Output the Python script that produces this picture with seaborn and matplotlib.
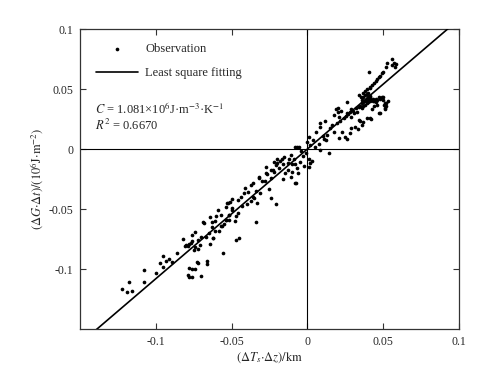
import numpy as np
import pandas as pd
import matplotlib
matplotlib.use("Agg")
import matplotlib.pyplot as plt
import seaborn as sns

# ---- data ----
obs_x = [
    -0.122, -0.119, -0.116, -0.118, -0.108, -0.108, -0.100, -0.097, -0.095, -0.095, -0.093, -0.091, -0.089,
    -0.086, -0.082, -0.080, -0.079, -0.078, -0.077, -0.076, -0.074, -0.069, -0.079, -0.078, -0.076, -0.074,
    -0.073, -0.072, -0.078, -0.072, -0.072, -0.076, -0.070, -0.070, -0.076, -0.074, -0.071, -0.068, -0.067,
    -0.066, -0.066, -0.064, -0.064, -0.063, -0.062, -0.061, -0.061, -0.060, -0.065, -0.063, -0.062, -0.0566,
    -0.054, -0.052, -0.0526, -0.081, -0.075,
    -0.059, -0.057, -0.057, -0.056, -0.055, -0.054, -0.053, -0.052, -0.052, -0.051, -0.0495, -0.0495, -0.047,
    -0.047, -0.045, -0.046, -0.046, -0.043, -0.042, -0.041, -0.040, -0.0375, -0.037, -0.036, -0.035, -0.0336,
    -0.033, -0.032, -0.031, -0.030, -0.039, -0.044, -0.048, -0.050, -0.054, -0.058, -0.034, -0.036,
    -0.0265, -0.0254, -0.024, -0.024, -0.0237, -0.022, -0.022, -0.021, -0.021, -0.0164, -0.0164, -0.0156,
    -0.0145, -0.011, -0.011, -0.010, -0.0079, -0.0079, -0.0079, -0.0068, -0.0066, -0.0057, -0.0072, -0.0046,
    -0.019, -0.018, -0.013, -0.028, -0.027, -0.020, -0.009, -0.004, -0.003, -0.002, -0.012, -0.017, -0.020,
    -0.010, -0.013, -0.006, -0.0276, -0.0316, -0.023,
    0.0009, 0.000, 0.004, -0.0007, 0.0013, 0.003, 0.001, 0.002, 0.006, 0.0086, 0.0079, 0.0086, 0.014, 0.012,
    0.0086, 0.0114, 0.015, 0.013, 0.0195, 0.0178, 0.019, 0.002, 0.005, 0.010, 0.016, 0.011,
    0.0206, 0.023, 0.026, 0.021, 0.0257, 0.026, 0.028, 0.029, 0.0336, 0.020, 0.022, 0.026, 0.0217, 0.028,
    0.025, 0.0316, 0.0178, 0.020, 0.029, 0.034, 0.024, 0.027, 0.030, 0.031, 0.032, 0.033, 0.034, 0.029,
    0.035, 0.036, 0.037, 0.038, 0.036, 0.037, 0.038, 0.039, 0.040, 0.041, 0.042, 0.043, 0.039, 0.040, 0.041,
    0.036, 0.037, 0.038, 0.039, 0.040, 0.0355, 0.0368, 0.0414, 0.044, 0.045, 0.046, 0.047, 0.048, 0.049,
    0.050, 0.051, 0.051, 0.052, 0.0428, 0.047, 0.042, 0.037, 0.0393, 0.0349, 0.0414, 0.048, 0.051, 0.036,
    0.0507, 0.044, 0.046, 0.039, 0.041, 0.043, 0.045, 0.050, 0.053, 0.052,
    0.0414, 0.0414, 0.0426, 0.044, 0.045, 0.046, 0.047, 0.048, 0.049, 0.050, 0.052, 0.0524, 0.0557, 0.0559,
    0.0586, 0.057, 0.058, 0.0404, 0.038, 0.039, 0.034,
]
obs_y = [
    -0.117, -0.119, -0.118, -0.111, -0.111, -0.101, -0.103, -0.095, -0.089, -0.098, -0.093, -0.092, -0.094,
    -0.087, -0.075, -0.080, -0.081, -0.079, -0.078, -0.077, -0.069, -0.061, -0.105, -0.107, -0.107, -0.100,
    -0.094, -0.095, -0.099, -0.083, -0.076, -0.072, -0.073, -0.106, -0.100, -0.082, -0.080, -0.062, -0.073,
    -0.093, -0.096, -0.057, -0.079, -0.065, -0.074, -0.068, -0.060, -0.056, -0.070, -0.061, -0.074, -0.064,
    -0.059, -0.055, -0.045, -0.081, -0.084,
    -0.051, -0.055, -0.064, -0.087, -0.0625, -0.059, -0.045, -0.059, -0.055, -0.044, -0.049, -0.042, -0.056,
    -0.076, -0.074, -0.0425, -0.053, -0.0475, -0.037, -0.0325, -0.046, -0.043, -0.030, -0.028, -0.041, -0.0606,
    -0.045, -0.023, -0.037, -0.027, -0.036, -0.040, -0.060, -0.051, -0.048, -0.068, -0.035, -0.040,
    -0.021, -0.0336, -0.0175, -0.0245, -0.041, -0.011, -0.019, -0.013, -0.046, -0.0125, -0.025, -0.007,
    -0.020, -0.005, -0.023, -0.019, 0.0014, -0.0125, -0.028, -0.016, 0.0017, 0.0019, -0.0286, -0.0105,
    -0.016, -0.010, -0.012, -0.027, -0.015, -0.008, -0.008, -0.002, -0.006, -0.014, -0.008, -0.008, -0.012,
    -0.0125, -0.0175, -0.020, -0.020, -0.024, -0.0175,
    0.010, 0.006, 0.0075, -0.003, -0.008, -0.010, -0.015, -0.0117, 0.014, 0.018, 0.004, -0.0008, -0.003, 0.0075,
    0.0215, 0.0236, 0.0175, 0.012, 0.0214, 0.0138, 0.033, 0.003, 0.002, 0.011, 0.020, 0.008,
    0.009, 0.014, 0.008, 0.0267, 0.0275, 0.030, 0.031, 0.0175, 0.017, 0.034, 0.032, 0.0394, 0.023, 0.013,
    0.0103, 0.0186, 0.028, 0.031, 0.027, 0.024, 0.026, 0.029, 0.032, 0.030, 0.034, 0.031, 0.035, 0.033,
    0.036, 0.038, 0.039, 0.040, 0.034, 0.036, 0.037, 0.038, 0.039, 0.040, 0.041, 0.042, 0.042, 0.043, 0.044,
    0.041, 0.043, 0.045, 0.046, 0.047, 0.043, 0.047, 0.043, 0.040, 0.039, 0.041, 0.043, 0.042, 0.0436,
    0.041, 0.0386, 0.034, 0.036, 0.033, 0.0297, 0.025, 0.0228, 0.0256, 0.023, 0.026, 0.0297, 0.033, 0.020,
    0.0367, 0.036, 0.037, 0.041, 0.042, 0.040, 0.042, 0.043, 0.040, 0.038,
    0.0506, 0.052, 0.0533, 0.055, 0.057, 0.058, 0.060, 0.061, 0.063, 0.0644, 0.068, 0.0714, 0.0747, 0.0696,
    0.0708, 0.072, 0.068, 0.0644, 0.048, 0.050, 0.045,
]
fit_slope = 1.081
fit_intercept = 0.0
C_text = r"$C$ = 1.081×10$^{6}$J·m$^{-3}$·K$^{-1}$"
R2_text = r"$R^{2}$ = 0.6670"
x_ticks = [-0.1, -0.05, 0, 0.05, 0.1]
x_ticklabels = ["-0.1", "-0.05", "0", "0.05", "0.1"]
y_ticks = [-0.1, -0.05, 0, 0.05, 0.1]
y_ticklabels = ["-0.1", "-0.05", "0", "0.05", "0.1"]
x_lim = (-0.15, 0.1)
y_lim = (-0.15, 0.1)

# ---- style ----
sns.set_style("ticks")
plt.rcParams["font.family"] = ["Liberation Serif", "DejaVu Serif"]
plt.rcParams["mathtext.fontset"] = "stix"
plt.rcParams["xtick.direction"] = "in"
plt.rcParams["ytick.direction"] = "in"

fig = plt.figure(figsize=(4.92, 3.68), dpi=100)
fig.patch.set_facecolor("white")
ax = fig.add_axes([80 / 492, 39 / 368, 379 / 492, 300 / 368])

df = pd.DataFrame({"x": obs_x, "y": obs_y})
sns.scatterplot(data=df, x="x", y="y", color="black", s=7, linewidth=0,
                label="Observation", ax=ax, zorder=3)

line_x = np.array(x_lim)
line_df = pd.DataFrame({"x": line_x, "y": fit_slope * line_x + fit_intercept})
sns.lineplot(data=line_df, x="x", y="y", color="black", linewidth=1.2,
             label="Least square fitting", ax=ax, zorder=4)

ax.axhline(0, color="black", linewidth=0.8, zorder=1)
ax.axvline(0, color="black", linewidth=0.8, zorder=1)

ax.set_xlim(*x_lim)
ax.set_ylim(*y_lim)
ax.set_xticks(x_ticks)
ax.set_xticklabels(x_ticklabels)
ax.set_yticks(y_ticks)
ax.set_yticklabels(y_ticklabels)
ax.tick_params(axis="both", which="both", direction="in", length=4, width=0.8,
               labelsize=8.5, top=True, right=True, color="#333333", pad=5)
for sp in ax.spines.values():
    sp.set_linewidth(0.9)
    sp.set_color("#333333")

ax.set_xlabel(r"$(\Delta T_s{\cdot}\Delta z)/\mathrm{km}$", fontsize=9, labelpad=2)
ax.set_ylabel(r"$(\Delta G{\cdot}\Delta t)/(10^6\mathrm{J{\cdot}m^{-2}})$", fontsize=9, labelpad=2)

leg = ax.legend(loc="upper left", bbox_to_anchor=(0.042, 0.953), frameon=False,
                fontsize=9, handlelength=3.4, handletextpad=0.55, labelspacing=0.95,
                borderpad=0, borderaxespad=0, markerscale=1.0)

ax.text(0.04, 0.733, C_text, transform=ax.transAxes, fontsize=9, va="center", ha="left")
ax.text(0.04, 0.68, R2_text, transform=ax.transAxes, fontsize=9, va="center", ha="left")

fig.savefig("out.png", dpi=100, facecolor="white")
